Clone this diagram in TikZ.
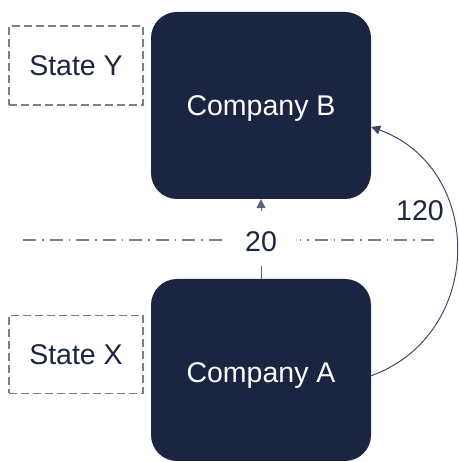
\documentclass[tikz,border=0pt]{standalone}
\usepackage{fontspec}
\setmainfont{Liberation Sans}
\usetikzlibrary{arrows.meta}
\definecolor{navy}{HTML}{1B2541}
\definecolor{dashgray}{HTML}{7F7F7F}
\definecolor{linkcol}{HTML}{3E4966}
\tikzset{
  company/.style={fill=navy, draw=none, rounded corners=26pt, text=white,
    minimum width=220pt, inner sep=0pt, text depth=0pt,
    font=\fontsize{28.5}{34}\selectfont},
  statebox/.style={draw=dashgray, line width=1.4pt, dash pattern=on 8pt off 4pt,
    minimum width=134pt, minimum height=79pt, inner sep=0pt, text=navy,
    font=\fontsize{28.5}{34}\selectfont},
  border/.style={draw=dashgray, line width=1.4pt, dash pattern=on 13pt off 6pt on 1.5pt off 6pt},
  flow/.style={draw=linkcol, line width=1pt, -{Triangle[length=9pt,width=9pt]}},
  numlabel/.style={text=navy, font=\fontsize{28.5}{34}\selectfont}
}
\begin{document}
\begin{tikzpicture}[x=1pt,y=1pt]
\useasboundingbox (0,0) rectangle (458,462);
% border line
\coordinate (L) at (23,222);
\coordinate (R) at (434,222);
\draw[border] (L) -- (R);
% companies
\node[company, minimum height=187pt] (B) at (261,356.5) {Company B};
\node[company, minimum height=182pt, text height=26pt] (A) at (261,92) {Company A};
% states
\node[statebox] (SY) at (76,396.5) {State Y};
\node[statebox, minimum height=78pt] (SX) at (76,107.5) {State X};
% flows
\draw[flow, draw=linkcol!85!white] (A.north) -- node[fill=white, minimum width=78pt, minimum height=55pt, inner sep=0pt, text height=24.5pt, text depth=0pt, numlabel] (L20) {20} (B.south);
\draw[flow] (A.-3.6) to[out=20, in=-20, looseness=1.25] (B.-11.2);
\node[numlabel] (L120) at (420,251) {120};
\end{tikzpicture}
\end{document}
